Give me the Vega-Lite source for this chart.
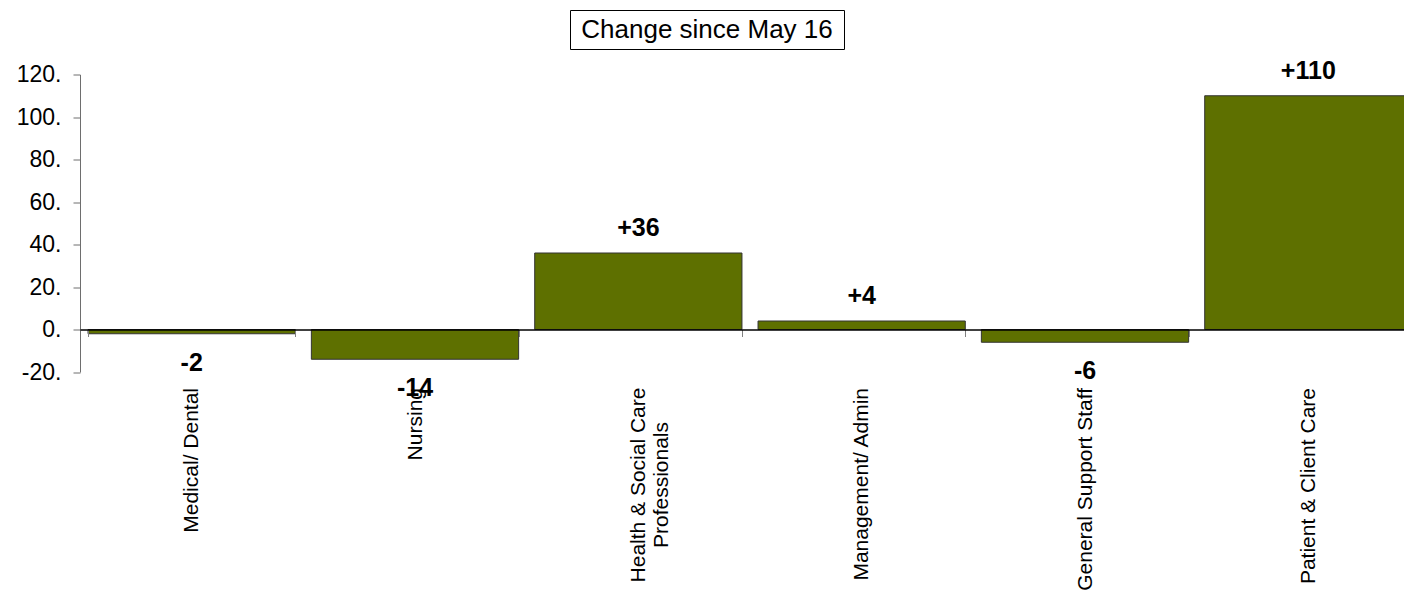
{
  "$schema": "https://vega.github.io/schema/vega-lite/v6.json",
  "background": "white",
  "padding": {"left": 16, "top": 9, "right": 0, "bottom": 0},
  "autosize": {"type": "pad"},
  "config": {"font": "Liberation Sans", "view": {"stroke": null}},
  "center": true,
  "spacing": 8.5,
  "vconcat": [
    {
      "spacing": 0,
      "hconcat": [
        {
          "width": 274,
          "height": 39,
          "view": {"stroke": "#000000", "strokeWidth": 1},
          "data": {"values": [{"title": "Change since May 16"}]},
          "mark": {"type": "text", "fontSize": 26, "font": "Liberation Sans", "color": "#000000"},
          "encoding": {"text": {"field": "title", "type": "nominal"}}
        },
        {
          "width": 85,
          "height": 39,
          "data": {"values": []},
          "mark": {"type": "text"},
          "encoding": {}
        }
      ]
    },
    {
      "width": 1340,
      "height": 297.5,
      "data": {
        "values": [
          {"category": "Medical/ Dental", "change": -2, "label": "-2"},
          {"category": "Nursing", "change": -14, "label": "-14"},
          {"category": "Health & Social Care Professionals", "change": 36, "label": "+36"},
          {"category": "Management/ Admin", "change": 4, "label": "+4"},
          {"category": "General Support Staff", "change": -6, "label": "-6"},
          {"category": "Patient & Client Care", "change": 110, "label": "+110"}
        ]
      },
      "encoding": {
        "x": {
          "field": "category",
          "type": "nominal",
          "sort": null,
          "scale": {"paddingInner": 0.072, "paddingOuter": 0.036},
          "axis": {
            "title": null,
            "orient": "bottom",
            "offset": -42.5,
            "zindex": 1,
            "domainColor": "#000000",
            "domainWidth": 1.5,
            "ticks": true,
            "tickBand": "extent",
            "tickColor": "#808080",
            "tickSize": 7,
            "labelAngle": -90,
            "labelFontSize": 21,
            "labelColor": "#000000",
            "labelLimit": 0,
            "labelOverlap": false,
            "labelBaseline": "middle",
            "labelAlign": {"condition": {"test": "datum.value == 'Health & Social Care Professionals'", "value": "center"}, "value": "right"},
            "labelPadding": {"condition": {"test": "datum.value == 'Health & Social Care Professionals'", "value": 148}, "value": 51},
            "labelExpr": "datum.value == 'Health & Social Care Professionals' ? ['Health & Social Care', 'Professionals'] : datum.label"
          }
        },
        "y": {
          "field": "change",
          "type": "quantitative",
          "scale": {"domain": [-20, 120], "nice": false},
          "axis": {
            "title": null,
            "grid": false,
            "values": [-20, 0, 20, 40, 60, 80, 100, 120],
            "labelExpr": "(datum.value < 0 ? '-' + abs(datum.value) : '' + datum.value) + '.'",
            "domainColor": "#6e6e6e",
            "tickColor": "#6e6e6e",
            "tickSize": 7,
            "labelFontSize": 23,
            "labelPadding": 12,
            "labelColor": "#000000"
          }
        }
      },
      "layer": [
        {
          "mark": {"type": "bar", "color": "#5e7000", "stroke": "#333333", "strokeWidth": 1},
          "encoding": {"y2": {"datum": 0}}
        },
        {
          "transform": [{"filter": "datum.change >= 0"}],
          "mark": {"type": "text", "fontWeight": "bold", "fontSize": 25, "baseline": "alphabetic", "dy": -17, "color": "#000000"},
          "encoding": {"text": {"field": "label", "type": "nominal"}}
        },
        {
          "transform": [{"filter": "datum.change < 0"}],
          "mark": {"type": "text", "fontWeight": "bold", "fontSize": 25, "baseline": "alphabetic", "dy": 37, "color": "#000000"},
          "encoding": {"text": {"field": "label", "type": "nominal"}}
        }
      ]
    }
  ]
}
